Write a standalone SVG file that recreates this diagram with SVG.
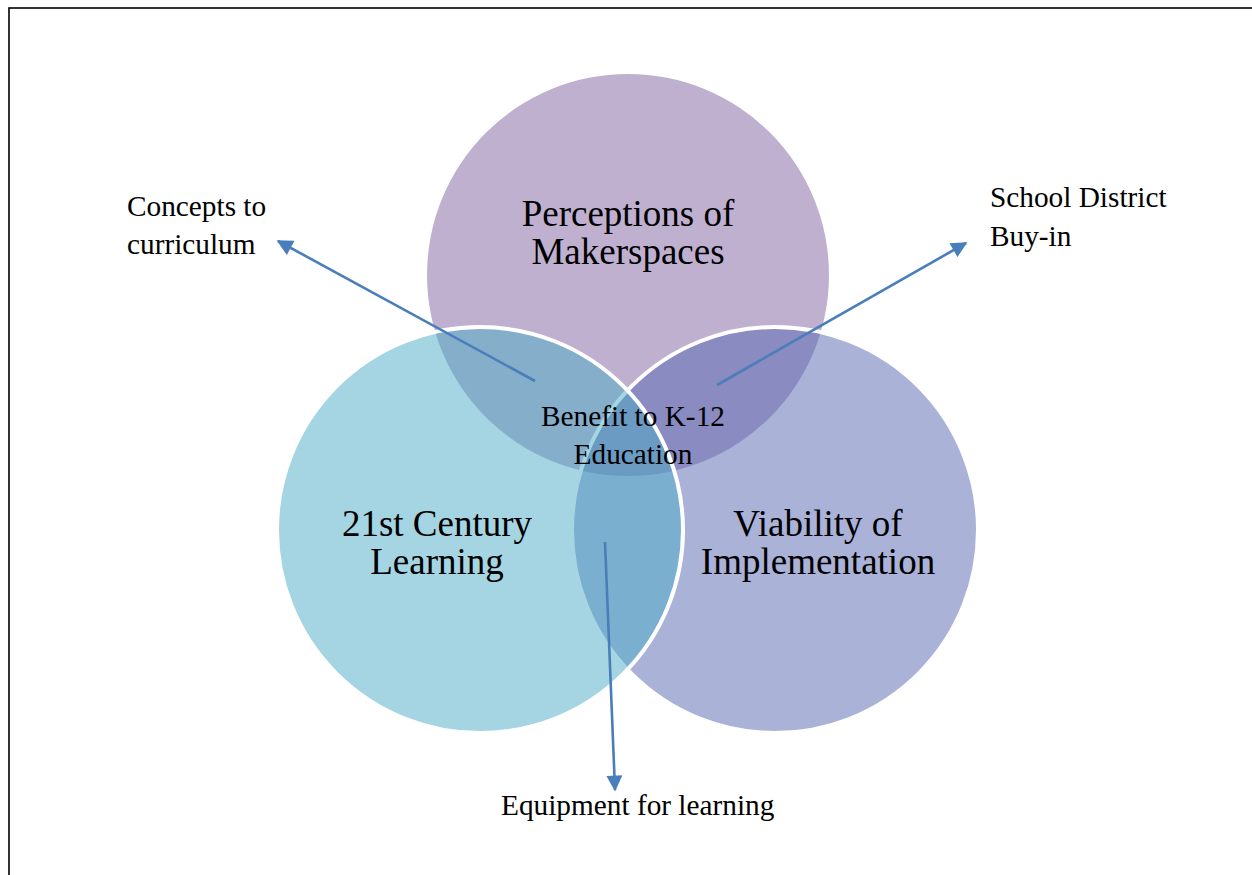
<svg xmlns="http://www.w3.org/2000/svg" width="1252" height="875" viewBox="0 0 1252 875">
  <defs>
    <style>
      .frame { fill: none; stroke: #000000; stroke-width: 1.6; }
      .ring { stroke: #ffffff; stroke-width: 4; }
      .big { font-family: "Liberation Serif", "Times New Roman", serif; font-size: 37px; fill: #000; text-anchor: middle; }
      .small { font-family: "Liberation Serif", "Times New Roman", serif; font-size: 29.3px; fill: #000; }
      .mid { text-anchor: middle; }
      .link { fill: none; stroke: #4A7EBB; stroke-width: 2.6; marker-end: url(#head); }
    </style>
    <marker id="head" viewBox="0 0 10 10" refX="9" refY="5" markerWidth="17" markerHeight="16" markerUnits="userSpaceOnUse" orient="auto">
      <path d="M0,0 L10,5 L0,10 Z" fill="#4A7EBB"/>
    </marker>
  </defs>

  <rect width="1252" height="875" fill="#ffffff"/>
  <rect class="frame" x="9" y="8" width="1270" height="900"/>

  <!-- Venn circles: top, right, left (stacking order) -->
  <g id="perceptions">
    <circle cx="628" cy="275" r="201" fill="#BFB0D0"/>
    <text class="big"><tspan x="628" y="226">Perceptions of</tspan><tspan x="628" y="263.5">Makerspaces</tspan></text>
  </g>
  <g id="viability">
    <circle class="ring" cx="775" cy="530" r="203" fill="#5565B1" fill-opacity="0.5"/>
  </g>
  <g id="century">
    <circle class="ring" cx="480" cy="530" r="203" fill="#4BABC5" fill-opacity="0.5"/>
  </g>
  <g id="viability-label">
    <text class="big"><tspan x="818" y="535.7">Viability of</tspan><tspan x="818" y="574">Implementation</tspan></text>
  </g>
  <g id="century-label">
    <text class="big"><tspan x="437" y="535.7">21st Century</tspan><tspan x="437" y="574">Learning</tspan></text>
  </g>
  <g id="benefit">
    <text class="small mid"><tspan x="633" y="426">Benefit to K-12</tspan><tspan x="633" y="464">Education</tspan></text>
  </g>

  <!-- Connectors -->
  <g id="connectors">
    <line class="link" x1="535" y1="381" x2="278" y2="241"/>
    <line class="link" x1="717" y1="385" x2="966" y2="243"/>
    <line class="link" x1="605" y1="542" x2="615" y2="790"/>
  </g>

  <g id="concepts">
    <text class="small"><tspan x="127" y="216">Concepts to</tspan><tspan x="127" y="254">curriculum</tspan></text>
  </g>
  <g id="district">
    <text class="small"><tspan x="990" y="207">School District</tspan><tspan x="990" y="246">Buy-in</tspan></text>
  </g>
  <g id="equipment">
    <text class="small"><tspan x="501" y="815">Equipment for learning</tspan></text>
  </g>
</svg>
